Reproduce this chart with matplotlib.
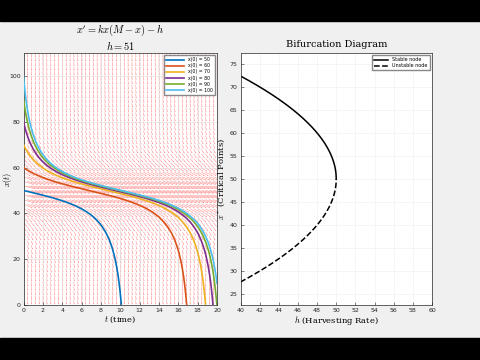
import numpy as np
import matplotlib
matplotlib.use('Agg')
import matplotlib.pyplot as plt
from matplotlib.patches import Rectangle

plt.rcParams['mathtext.fontset'] = 'cm'
plt.rcParams['font.family'] = 'DejaVu Sans'

# model parameters
k = 0.02
M = 100
h = 51
x0_list = [50, 60, 70, 80, 90, 100]
colors = ['#0072BD', '#D95319', '#EDB120', '#7E2F8E', '#77AC30', '#4DBEEE']

t_grid = np.arange(0, 20.0001, 0.4)
x_grid = np.arange(0, 111, 2)

h_vals = np.linspace(40, 50, 400)

fig = plt.figure(figsize=(4.8, 3.6), dpi=100)
fig.patch.set_facecolor('#f0f0f0')
fig.patches.append(Rectangle((0, 1 - 21/360), 1, 21/360, transform=fig.transFigure,
                             color='black', zorder=-1))
fig.patches.append(Rectangle((0, 0), 1, 22/360, transform=fig.transFigure,
                             color='black', zorder=-1))

# ---------- left: direction field + solutions ----------
ax1 = fig.add_axes([23.5/480, 1 - 305/360, (217 - 23.5)/480, (305 - 53)/360])
T, X = np.meshgrid(t_grid, x_grid)
F = k*X*(M - X) - h
L = np.sqrt(1 + F**2)
U = 1/L
V = F/L
ax1.quiver(T, X, U, V, angles='xy', scale_units='xy', scale=1/1.8,
           color='red', alpha=0.55, width=0.0022, headwidth=3, headlength=3,
           headaxislength=2.7, zorder=1)

# solution of x' = kx(M-x) - h for h > kM^2/4
tt = np.linspace(0, 20, 2000)
a = np.sqrt((h - k*M**2/4)/k)
w = np.sqrt(k*(h - k*M**2/4))
for x0, c in zip(x0_list, colors):
    xs = M/2 + a*np.tan(np.arctan((x0 - M/2)/a) - w*tt)
    ok = xs >= 0
    if not ok.all():
        idx = np.argmax(~ok)
        xs = xs[:idx]
        ts = tt[:idx]
    else:
        ts = tt
    ax1.plot(ts, xs, color=c, lw=1.2, label='x(0) = {0}'.format(x0), zorder=3)

ax1.set_xlim(0, 20)
ax1.set_ylim(0, 110)
ax1.set_xticks(np.arange(0, 21, 2))
ax1.set_yticks(np.arange(0, 101, 20))
ax1.set_xlabel(r'$t$ (time)', fontsize=6, family='serif', labelpad=1)
ax1.set_ylabel(r'$x(t)$', fontsize=6)
ax1.yaxis.set_label_coords(-0.05, 0.5)
ax1.set_title(r"$x' = kx(M - x) - h$" + '\n' + r'$h = 51$', fontsize=7.5, pad=2,
              linespacing=1.1)
ax1.grid(True, color='#dddddd', lw=0.4)
ax1.legend(loc='upper right', fontsize=3.3, handlelength=4, framealpha=1,
           borderpad=0.4, labelspacing=0.25, edgecolor='#888888', fancybox=False)

# ---------- right: bifurcation diagram ----------
ax2 = fig.add_axes([240.5/480, 1 - 305/360, (432 - 240.5)/480, (305 - 53)/360])
disc = np.sqrt(np.clip(M**2/4 - h_vals/k, 0, None))
stable = M/2 + disc
unstable = M/2 - disc
ax2.plot(h_vals, stable, 'k-', lw=1.1, label='Stable node')
ax2.plot(h_vals, unstable, 'k--', lw=1.1, label='Unstable node')
ax2.set_xlim(40, 60)
ax2.set_ylim(unstable.min() - 5, stable.max() + 5)
ax2.set_xticks(np.arange(40, 61, 2))
ax2.set_yticks(np.arange(25, 76, 5))
ax2.set_xlabel(r'$h$ (Harvesting Rate)', fontsize=6, family='serif', labelpad=1)
ax2.set_ylabel(r'$x^*$ (Critical Points)', fontsize=6, family='serif', labelpad=2)
ax2.set_title('Bifurcation Diagram', fontsize=7, family='serif', pad=4)
ax2.grid(True, color='#eeeeee', lw=0.4)
ax2.legend(loc='upper right', fontsize=3.5, handlelength=3, framealpha=1,
           borderpad=0.4, labelspacing=0.2, edgecolor='#888888', fancybox=False)

for ax in (ax1, ax2):
    ax.tick_params(labelsize=4.5, direction='in', length=2, width=0.4, pad=2,
                   colors='#262626')
    for s in ax.spines.values():
        s.set_linewidth(0.5)
        s.set_color('#262626')

fig.savefig('out.png', dpi=100, facecolor=fig.get_facecolor())
